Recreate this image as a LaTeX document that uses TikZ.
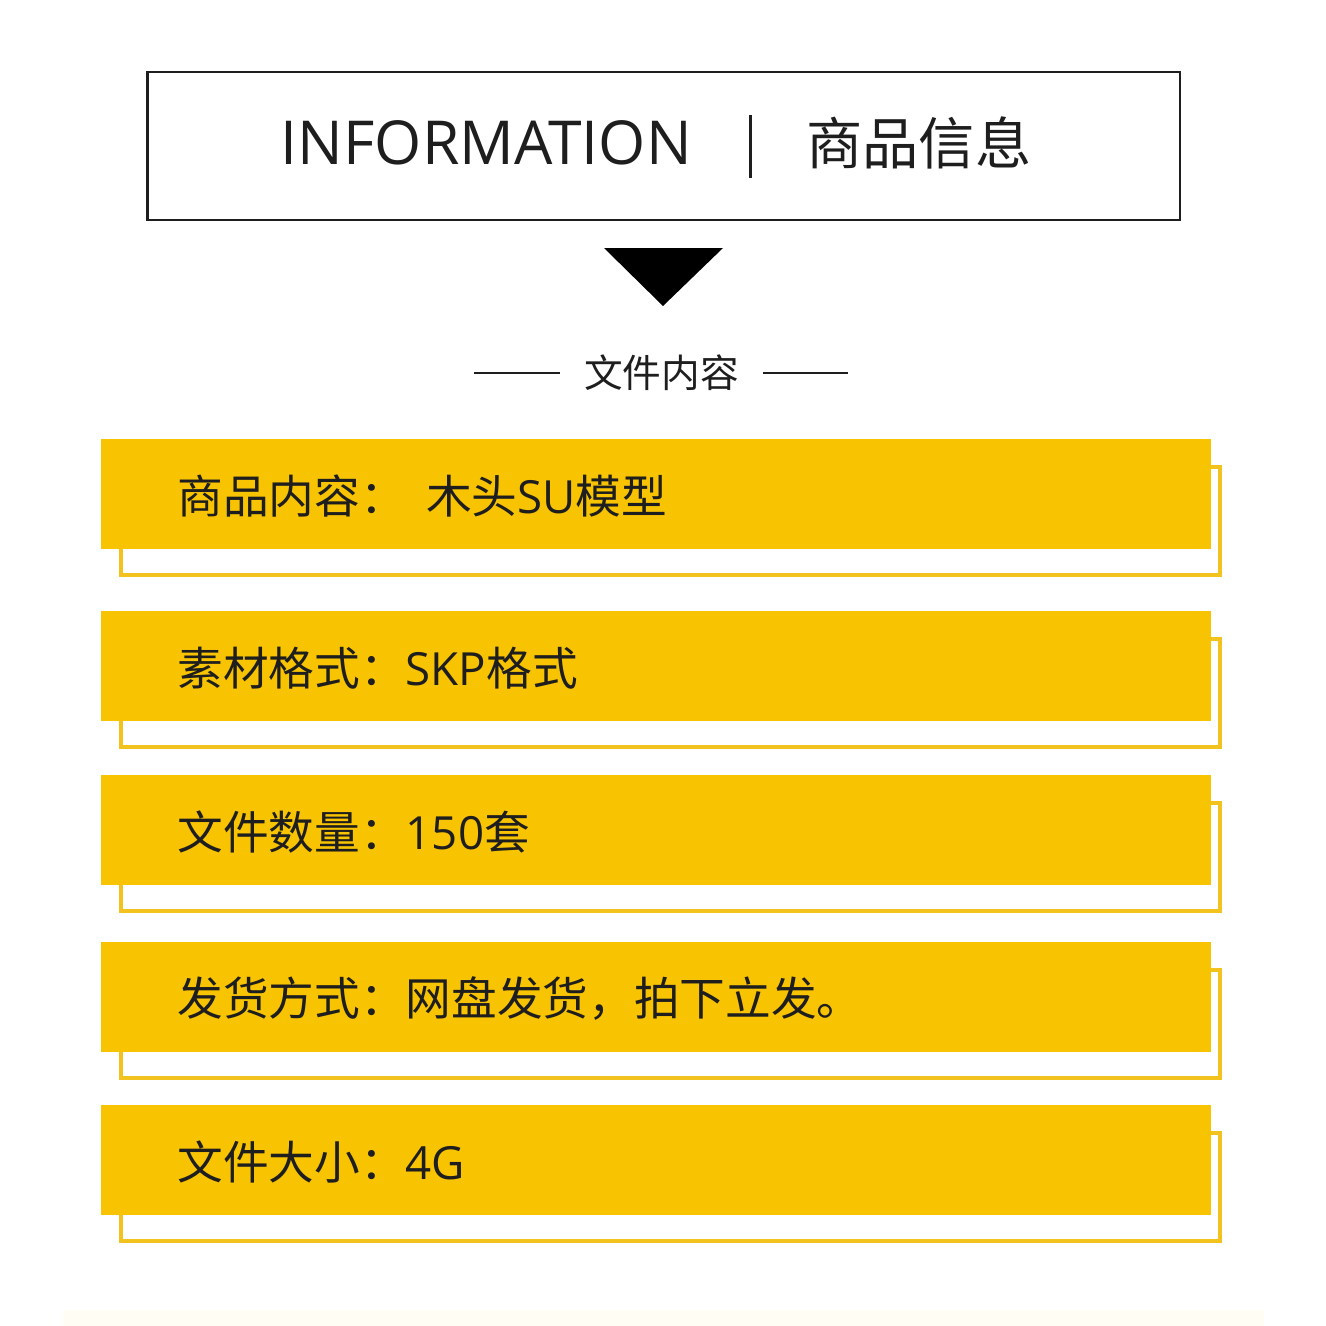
\documentclass[tikz,border=0pt]{standalone}
\usepackage{fontspec}
\setmainfont{Noto Sans CJK SC}
\newfontfamily\latinfont{Open Sans}
\usetikzlibrary{positioning}
\definecolor{baryellow}{HTML}{F8C300}
\definecolor{edgeyellow}{HTML}{F2C21E}
\definecolor{inkdark}{HTML}{1E1E1E}
\definecolor{creamstrip}{HTML}{FFFDF4}

\begin{document}
\begin{tikzpicture}[x=0.02cm, y=-0.02cm,
  barfill/.style={fill=baryellow, inner sep=0pt, anchor=north west,
    minimum width=22.2cm, minimum height=2.2cm},
  barlabel/.style={anchor=west, text=inkdark, inner sep=0pt,
    font=\fontsize{26}{30}\selectfont}]
  \useasboundingbox (0,0) rectangle (1326,1326);
  % header box
  \node[draw=inkdark, line width=1.6pt, minimum width=20.66cm, minimum height=2.96cm]
    (infobox) at (663.5,146) {};
  \node[anchor=east, text=inkdark, inner sep=0pt, font=\latinfont\fontsize{34.5}{38}\selectfont]
    (infoen) at (692,143) {INFORMATION};
  \node[anchor=west, text=inkdark, inner sep=0pt, font=\fontsize{32}{36}\selectfont]
    (infocn) at (806,143) {商品信息};
  \draw[inkdark, line width=1.7pt] (750,115) -- (750,178);
  \fill[black] (604,248) -- (723,248) -- (663,306) -- cycle;
  % section heading
  \node[text=inkdark, inner xsep=0.48cm, font=\fontsize{22}{26}\selectfont]
    (heading) at (661.5,373) {文件内容};
  \coordinate (ruleL) at (474,373);
  \coordinate (ruleR) at (848,373);
  \draw[inkdark, line width=1.2pt] (ruleL) -- (heading.west);
  \draw[inkdark, line width=1.2pt] (heading.east) -- (ruleR);
  % info bars
  \foreach \top/\txt [count=\i] in {439/{商品内容：\hspace{0.45em}木头{\latinfont SU}模型},
      611/{素材格式：{\latinfont SKP}格式}, 775/{文件数量：{\latinfont 150}套},
      942/{发货方式：网盘发货，拍下立发。}, 1105/{文件大小：{\latinfont 4G}}} {
    \draw[edgeyellow, line width=2pt] (121,\top+28) rectangle (1220,\top+136);
    \node[barfill] (bar\i) at (101,\top) {};
    \node[barlabel] (label\i) at (177,\top+57) {\txt};
  }
  \fill[creamstrip] (63,1310) rectangle (1264,1326);
\end{tikzpicture}
\end{document}
